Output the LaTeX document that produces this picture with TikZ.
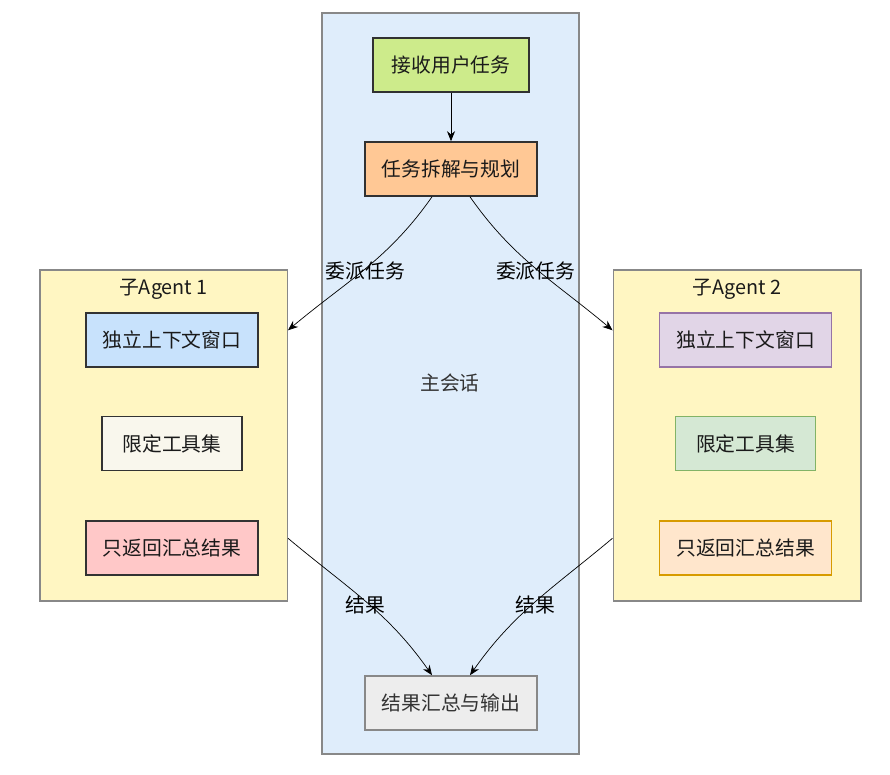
\documentclass[tikz,border=0pt]{standalone}
\usepackage{fontspec}
\newfontfamily\cjk{Noto Sans CJK SC}
\usetikzlibrary{arrows.meta, calc}

\definecolor{mainfill}{HTML}{DFEDFB}
\definecolor{agentfill}{HTML}{FFF6C2}
\definecolor{panelline}{HTML}{888888}
\definecolor{ink}{HTML}{1A1A1A}
\definecolor{ctxfillA}{HTML}{C8E2FC}
\definecolor{ctxlineA}{HTML}{333333}
\definecolor{toolfillA}{HTML}{F9F7ED}
\definecolor{toollineA}{HTML}{333333}
\definecolor{retfillA}{HTML}{FFC8C8}
\definecolor{retlineA}{HTML}{333333}
\definecolor{ctxfillB}{HTML}{E1D5E7}
\definecolor{ctxlineB}{HTML}{9673A6}
\definecolor{toolfillB}{HTML}{D5E8D4}
\definecolor{toollineB}{HTML}{82B366}
\definecolor{retfillB}{HTML}{FFE6CC}
\definecolor{retlineB}{HTML}{D79B00}

\begin{document}
\begin{tikzpicture}[x=1pt, y=1pt, font=\cjk\fontsize{19.8}{24}\selectfont, text=ink]
  % 1 unit = 1 px of the page, y runs downwards as negative numbers
  \tikzset{
    box/.style={draw=ink!90, line width=1.6pt, minimum height=54, inner sep=0pt},
    panel/.style={draw=panelline, line width=1.5pt, inner sep=0pt},
    flow/.style={line width=0.7pt, draw=black, -{Stealth[length=10pt, width=8pt]}},
    lbl/.style={text=black}
  }
  \useasboundingbox (0,0) rectangle (890,-774);

  % main session column
  \node[panel, fill=mainfill, minimum width=257, minimum height=741] (main) at (450.5,-383.5) {};
  \node[text=black!80] (mainlbl) at (450,-383) {主会话};

  \node[box, fill={rgb,255:red,205;green,235;blue,139}, minimum width=156] (recv) at (451,-65) {接收用户任务};
  \node[box, fill={rgb,255:red,255;green,200;blue,149}, minimum width=172] (split) at (451,-169) {任务拆解与规划};
  \node[box, draw=panelline, fill=black!7, text=black!80, minimum width=172] (out) at (451,-703) {结果汇总与输出};

  % the two sub agents
  \foreach \k/\cx/\n in {A/163.5/1, B/737/2}{
    \node[panel, fill=agentfill, minimum width=247.5, minimum height=331] (agent\k) at (\cx,-435.5) {};
    \node (title\k) at (\cx,-289) {子Agent \n};
    \node[box, draw=ctxline\k, fill=ctxfill\k, minimum width=172] (ctx\k) at ($(\cx,-340)+(8.5,0)$) {独立上下文窗口};
    \node[box, draw=toolline\k, fill=toolfill\k, minimum width=140] (tools\k) at ($(\cx,-443.5)+(8.5,0)$) {限定工具集};
    \node[box, draw=retline\k, fill=retfill\k, minimum width=172] (ret\k) at ($(\cx,-548)+(8.5,0)$) {只返回汇总结果};
  }

  \coordinate (inA) at ([yshift=-61]agentA.north east);
  \coordinate (inB) at ([yshift=-61]agentB.north west);
  \coordinate (backA) at ([yshift=-269]agentA.north east);
  \coordinate (backB) at ([yshift=-269]agentB.north west);

  \draw[flow] (recv) -- (split);
  \draw[flow] ([xshift=-19]split.south) to[out=-125, in=40]
    node[lbl, yshift=-2] {委派任务} (inA);
  \draw[flow] ([xshift=19]split.south) to[out=-55, in=140]
    node[lbl, yshift=-2] {委派任务} (inB);
  \draw[flow] (backA) to[out=-40, in=125]
    node[lbl, yshift=-3] {结果} ([xshift=-19]out.north);
  \draw[flow] (backB) to[out=-140, in=55]
    node[lbl, yshift=-3] {结果} ([xshift=19]out.north);
\end{tikzpicture}
\end{document}
